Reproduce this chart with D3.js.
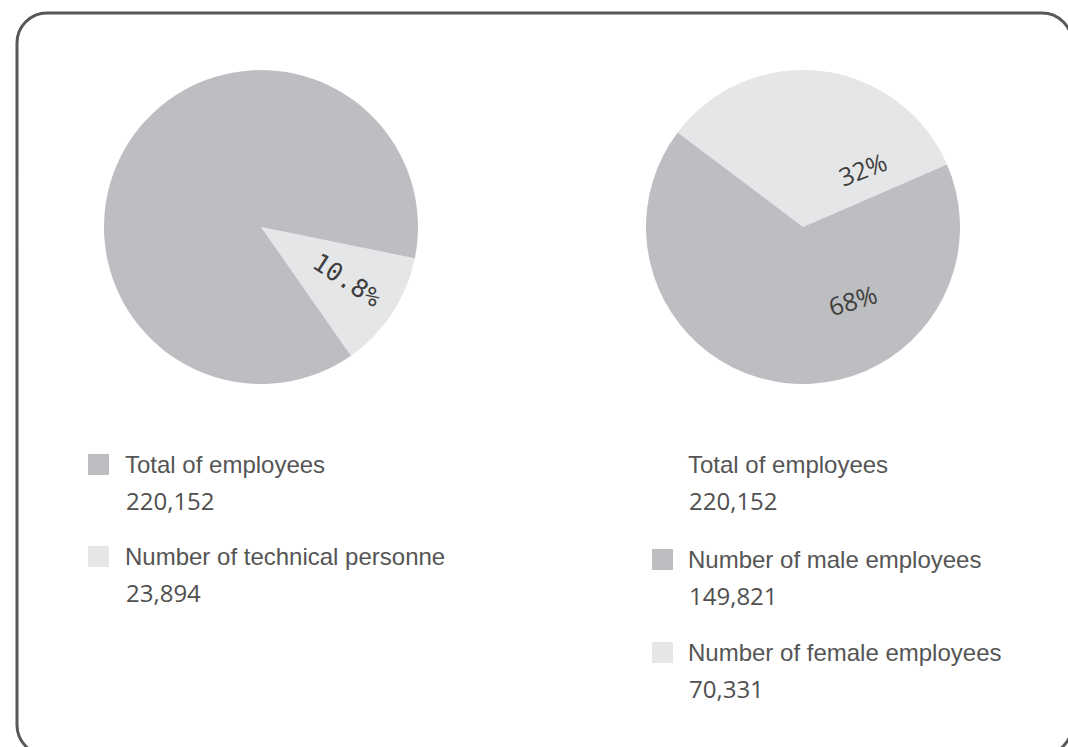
<!DOCTYPE html>
<html>
<head>
<meta charset="utf-8">
<script src="https://cdn.jsdelivr.net/npm/d3@7"></script>
<style>
  html, body { margin: 0; padding: 0; background: #ffffff; }
  svg { display: block; }
</style>
</head>
<body>
<script>
// ---- data ----
const leftSliceNames = ["Number of technical personne", "Total of employees"];
const leftShares = [12.1, 87.9];          // visual shares of the left pie
const leftLabels = ["10.8%", ""];
const rightSliceNames = ["Number of female employees", "Number of male employees"];
const rightShares = [33.2, 66.8];         // visual shares of the right pie
const rightLabels = ["32%", "68%"];

const leftLegendNames = ["Total of employees", "Number of technical personne"];
const leftLegendValues = ["220,152", "23,894"];
const rightLegendNames = ["Total of employees", "Number of male employees", "Number of female employees"];
const rightLegendValues = ["220,152", "149,821", "70,331"];

// ---- styles ----
const DARK = "#bdbec1", LIGHT = "#e5e6e8";
const W = 1068, H = 747;

const svg = d3.select("body").append("svg").attr("width", W).attr("height", H);

svg.append("rect")
  .attr("x", 17).attr("y", 13).attr("width", 1055).attr("height", 742)
  .attr("rx", 30).attr("ry", 30)
  .attr("fill", "#fff").attr("stroke", "#585858").attr("stroke-width", 3);

const deg = Math.PI / 180;
const arc = d3.arc().innerRadius(0).outerRadius(157);

function drawPie(cx, cy, shares, startDeg, colors) {
  const pie = d3.pie().sort(null).value(d => d)
    .startAngle(startDeg * deg).endAngle(startDeg * deg + 2 * Math.PI);
  const g = svg.append("g").attr("transform", `translate(${cx},${cy})`);
  g.selectAll("path").data(pie(shares)).join("path")
    .attr("d", arc).attr("fill", (d, i) => colors[i]);
  return g;
}

const gL = drawPie(261, 227, leftShares, 101.5, [LIGHT, DARK]);
const gR = drawPie(803, 227, rightShares, -53, [LIGHT, DARK]);

// slice labels (positions relative to pie centres, with rotation)
const leftLabelPos = [{ x: 86, y: 53, r: 33 }];
gL.selectAll("text.lbl").data(leftLabelPos).join("text")
  .attr("class", "lbl")
  .attr("transform", d => `translate(${d.x},${d.y}) rotate(${d.r})`)
  .attr("text-anchor", "middle").attr("dy", "0.35em")
  .attr("font-family", "DejaVu Sans Mono, monospace").attr("font-size", 25)
  .attr("fill", "#3e3e3e")
  .text((d, i) => leftLabels[i]);

const rightLabelPos = [{ x: 60, y: -57, r: -21 }, { x: 50, y: 74, r: -17 }];
gR.selectAll("text.lbl").data(rightLabelPos).join("text")
  .attr("class", "lbl")
  .attr("transform", d => `translate(${d.x},${d.y}) rotate(${d.r})`)
  .attr("text-anchor", "middle").attr("dy", "0.35em")
  .attr("font-family", "Open Sans, sans-serif").attr("font-size", 25)
  .attr("fill", "#3e3e3e")
  .text((d, i) => rightLabels[i]);

// legends
function legend(x0, textX, rows) {
  const g = svg.append("g");
  rows.forEach(r => {
    if (r.color) {
      g.append("rect").attr("x", x0).attr("y", r.y - 19).attr("width", 21).attr("height", 21)
        .attr("fill", r.color);
    }
    g.append("text").attr("x", textX).attr("y", r.y)
      .attr("font-family", "Liberation Sans, Arial, sans-serif").attr("font-size", 24)
      .attr("fill", "#555").text(r.name);
    g.append("text").attr("x", textX + 1).attr("y", r.y + 37)
      .attr("font-family", "Open Sans, sans-serif").attr("font-size", 24)
      .attr("fill", "#505050").text(r.value);
  });
}

legend(88, 125, [
  { y: 473, color: DARK, name: leftLegendNames[0], value: leftLegendValues[0] },
  { y: 565, color: LIGHT, name: leftLegendNames[1], value: leftLegendValues[1] }
]);
legend(652, 688, [
  { y: 473, color: null, name: rightLegendNames[0], value: rightLegendValues[0] },
  { y: 568, color: DARK, name: rightLegendNames[1], value: rightLegendValues[1] },
  { y: 661, color: LIGHT, name: rightLegendNames[2], value: rightLegendValues[2] }
]);
</script>
</body>
</html>
